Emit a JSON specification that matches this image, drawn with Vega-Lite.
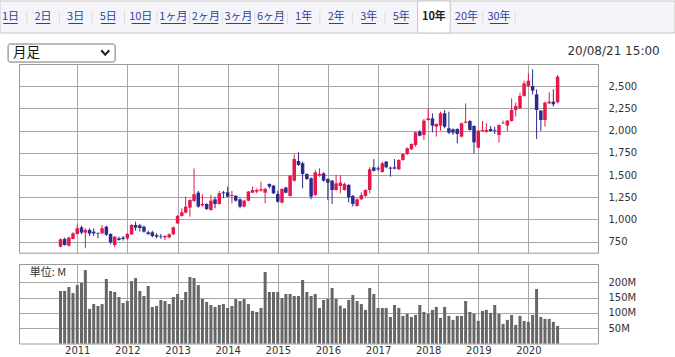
{
"$schema": "https://vega.github.io/schema/vega-lite/v6.json",
"width": 675, "height": 357,
"autosize": {"type": "none"},
"padding": 0,
"background": "#ffffff",
"config": {
  "view": {"stroke": null},
  "axis": {"title": null, "labelFont": "DejaVu Sans", "labelFontSize": 10, "labelColor": "#333333", "domainColor": "#9a9a9a", "gridColor": "#a6a6a6", "ticks": false, "labelFlush": false},
  "text": {"font": "Noto Sans CJK JP"}
},
"datasets": {
  "tabs": [
    {"tab": "1日", "row": "tabs"}, {"tab": "2日", "row": "tabs"}, {"tab": "3日", "row": "tabs"}, {"tab": "5日", "row": "tabs"},
    {"tab": "10日", "row": "tabs"}, {"tab": "1ヶ月", "row": "tabs"}, {"tab": "2ヶ月", "row": "tabs"}, {"tab": "3ヶ月", "row": "tabs"},
    {"tab": "6ヶ月", "row": "tabs"}, {"tab": "1年", "row": "tabs"}, {"tab": "2年", "row": "tabs"}, {"tab": "3年", "row": "tabs"},
    {"tab": "5年", "row": "tabs"}, {"tab": "10年", "row": "tabs"}, {"tab": "20年", "row": "tabs"}, {"tab": "30年", "row": "tabs"}
  ],
  "m": [
{"d":"2010-09-01","o":693,"h":787,"l":686,"c":776,"v":171.7},
{"d":"2010-10-01","o":780,"h":795,"l":705,"c":712,"v":171.7},
{"d":"2010-11-01","o":705,"h":806,"l":693,"c":795,"v":184.8},
{"d":"2010-12-01","o":780,"h":855,"l":776,"c":843,"v":165},
{"d":"2011-01-01","o":836,"h":937,"l":832,"c":900,"v":191},
{"d":"2011-02-01","o":911,"h":930,"l":832,"c":851,"v":197.8},
{"d":"2011-03-01","o":851,"h":900,"l":675,"c":881,"v":240},
{"d":"2011-04-01","o":881,"h":900,"l":813,"c":840,"v":113},
{"d":"2011-05-01","o":862,"h":900,"l":813,"c":843,"v":129},
{"d":"2011-06-01","o":847,"h":855,"l":787,"c":840,"v":122.8},
{"d":"2011-07-01","o":843,"h":937,"l":836,"c":900,"v":129},
{"d":"2011-08-01","o":918,"h":930,"l":813,"c":828,"v":211},
{"d":"2011-09-01","o":836,"h":843,"l":720,"c":742,"v":171.7},
{"d":"2011-10-01","o":712,"h":813,"l":686,"c":806,"v":168.5},
{"d":"2011-11-01","o":787,"h":806,"l":761,"c":768,"v":152},
{"d":"2011-12-01","o":795,"h":813,"l":761,"c":780,"v":132.6},
{"d":"2012-01-01","o":787,"h":847,"l":768,"c":836,"v":139},
{"d":"2012-02-01","o":832,"h":949,"l":825,"c":937,"v":204},
{"d":"2012-03-01","o":937,"h":975,"l":873,"c":907,"v":214},
{"d":"2012-04-01","o":933,"h":949,"l":862,"c":903,"v":171.7},
{"d":"2012-05-01","o":918,"h":930,"l":851,"c":862,"v":155.4},
{"d":"2012-06-01","o":855,"h":873,"l":825,"c":836,"v":188},
{"d":"2012-07-01","o":855,"h":873,"l":798,"c":813,"v":119.6},
{"d":"2012-08-01","o":825,"h":843,"l":787,"c":806,"v":122.8},
{"d":"2012-09-01","o":813,"h":836,"l":780,"c":806,"v":142.4},
{"d":"2012-10-01","o":798,"h":825,"l":768,"c":813,"v":139},
{"d":"2012-11-01","o":798,"h":843,"l":787,"c":832,"v":129},
{"d":"2012-12-01","o":832,"h":918,"l":825,"c":911,"v":152},
{"d":"2013-01-01","o":956,"h":1050,"l":949,"c":1039,"v":162},
{"d":"2013-02-01","o":1039,"h":1125,"l":1031,"c":1080,"v":142.4},
{"d":"2013-03-01","o":1076,"h":1256,"l":1069,"c":1144,"v":168.5},
{"d":"2013-04-01","o":1132,"h":1226,"l":1031,"c":1219,"v":217.4},
{"d":"2013-05-01","o":1208,"h":1575,"l":1200,"c":1283,"v":214},
{"d":"2013-06-01","o":1301,"h":1320,"l":1132,"c":1144,"v":191},
{"d":"2013-07-01","o":1159,"h":1283,"l":1144,"c":1174,"v":145.7},
{"d":"2013-08-01","o":1174,"h":1181,"l":1106,"c":1117,"v":135.9},
{"d":"2013-09-01","o":1106,"h":1275,"l":1099,"c":1211,"v":126},
{"d":"2013-10-01","o":1226,"h":1256,"l":1125,"c":1174,"v":119.6},
{"d":"2013-11-01","o":1174,"h":1320,"l":1166,"c":1294,"v":126},
{"d":"2013-12-01","o":1305,"h":1320,"l":1238,"c":1294,"v":129},
{"d":"2014-01-01","o":1305,"h":1369,"l":1249,"c":1256,"v":116.3},
{"d":"2014-02-01","o":1264,"h":1320,"l":1181,"c":1275,"v":122.8},
{"d":"2014-03-01","o":1264,"h":1275,"l":1200,"c":1211,"v":145.7},
{"d":"2014-04-01","o":1226,"h":1238,"l":1125,"c":1144,"v":139},
{"d":"2014-05-01","o":1144,"h":1219,"l":1136,"c":1211,"v":145.7},
{"d":"2014-06-01","o":1211,"h":1320,"l":1204,"c":1313,"v":129},
{"d":"2014-07-01","o":1301,"h":1369,"l":1294,"c":1331,"v":106.5},
{"d":"2014-08-01","o":1313,"h":1350,"l":1294,"c":1331,"v":103.3},
{"d":"2014-09-01","o":1324,"h":1425,"l":1313,"c":1339,"v":116.3},
{"d":"2014-10-01","o":1301,"h":1358,"l":1181,"c":1343,"v":233.7},
{"d":"2014-11-01","o":1399,"h":1406,"l":1350,"c":1369,"v":168.5},
{"d":"2014-12-01","o":1380,"h":1388,"l":1286,"c":1294,"v":168.5},
{"d":"2015-01-01","o":1286,"h":1324,"l":1189,"c":1200,"v":168.5},
{"d":"2015-02-01","o":1189,"h":1350,"l":1181,"c":1343,"v":148.8},
{"d":"2015-03-01","o":1358,"h":1369,"l":1294,"c":1301,"v":162},
{"d":"2015-04-01","o":1264,"h":1500,"l":1256,"c":1493,"v":162},
{"d":"2015-05-01","o":1436,"h":1733,"l":1425,"c":1680,"v":155.4},
{"d":"2015-06-01","o":1658,"h":1755,"l":1602,"c":1613,"v":155.4},
{"d":"2015-07-01","o":1632,"h":1650,"l":1350,"c":1511,"v":207.6},
{"d":"2015-08-01","o":1511,"h":1519,"l":1444,"c":1455,"v":168.5},
{"d":"2015-09-01","o":1463,"h":1474,"l":1226,"c":1256,"v":155.4},
{"d":"2015-10-01","o":1275,"h":1556,"l":1264,"c":1530,"v":162},
{"d":"2015-11-01","o":1493,"h":1575,"l":1481,"c":1511,"v":116.3},
{"d":"2015-12-01","o":1519,"h":1530,"l":1425,"c":1436,"v":142.4},
{"d":"2016-01-01","o":1455,"h":1463,"l":1219,"c":1414,"v":145.7},
{"d":"2016-02-01","o":1436,"h":1444,"l":1174,"c":1331,"v":181.5},
{"d":"2016-03-01","o":1331,"h":1500,"l":1324,"c":1406,"v":145.7},
{"d":"2016-04-01","o":1376,"h":1500,"l":1294,"c":1414,"v":123.9},
{"d":"2016-05-01","o":1331,"h":1414,"l":1324,"c":1399,"v":115.2},
{"d":"2016-06-01","o":1388,"h":1399,"l":1189,"c":1249,"v":142.4},
{"d":"2016-07-01","o":1264,"h":1275,"l":1144,"c":1174,"v":158.7},
{"d":"2016-08-01","o":1151,"h":1238,"l":1144,"c":1226,"v":139},
{"d":"2016-09-01","o":1226,"h":1305,"l":1219,"c":1275,"v":129},
{"d":"2016-10-01","o":1264,"h":1339,"l":1256,"c":1331,"v":109.8},
{"d":"2016-11-01","o":1331,"h":1587,"l":1294,"c":1564,"v":181.5},
{"d":"2016-12-01","o":1587,"h":1680,"l":1538,"c":1549,"v":162},
{"d":"2017-01-01","o":1575,"h":1594,"l":1545,"c":1564,"v":116.3},
{"d":"2017-02-01","o":1534,"h":1650,"l":1526,"c":1632,"v":116.3},
{"d":"2017-03-01","o":1650,"h":1658,"l":1575,"c":1587,"v":116.3},
{"d":"2017-04-01","o":1583,"h":1594,"l":1481,"c":1572,"v":87},
{"d":"2017-05-01","o":1587,"h":1680,"l":1564,"c":1572,"v":126},
{"d":"2017-06-01","o":1564,"h":1677,"l":1556,"c":1669,"v":116.3},
{"d":"2017-07-01","o":1669,"h":1744,"l":1662,"c":1737,"v":90.2},
{"d":"2017-08-01","o":1737,"h":1812,"l":1725,"c":1800,"v":96.7},
{"d":"2017-09-01","o":1789,"h":1857,"l":1782,"c":1849,"v":87},
{"d":"2017-10-01","o":1838,"h":1988,"l":1819,"c":1981,"v":93.5},
{"d":"2017-11-01","o":1988,"h":2007,"l":1936,"c":1943,"v":126},
{"d":"2017-12-01","o":1951,"h":2131,"l":1894,"c":2112,"v":103.3},
{"d":"2018-01-01","o":2119,"h":2251,"l":2112,"c":2138,"v":96.7},
{"d":"2018-02-01","o":2138,"h":2195,"l":1981,"c":2056,"v":109.8},
{"d":"2018-03-01","o":2044,"h":2082,"l":1932,"c":2074,"v":119.6},
{"d":"2018-04-01","o":2056,"h":2213,"l":1999,"c":2195,"v":83.7},
{"d":"2018-05-01","o":2195,"h":2232,"l":2026,"c":2044,"v":119.6},
{"d":"2018-06-01","o":2026,"h":2213,"l":1962,"c":1977,"v":90.2},
{"d":"2018-07-01","o":2014,"h":2026,"l":1951,"c":1977,"v":77.2},
{"d":"2018-08-01","o":2018,"h":2026,"l":1857,"c":1962,"v":90.2},
{"d":"2018-09-01","o":1932,"h":2089,"l":1924,"c":2082,"v":90.2},
{"d":"2018-10-01","o":2089,"h":2307,"l":2082,"c":2101,"v":139},
{"d":"2018-11-01","o":2108,"h":2119,"l":1999,"c":2007,"v":103.3},
{"d":"2018-12-01","o":2052,"h":2060,"l":1744,"c":1868,"v":96.7},
{"d":"2019-01-01","o":1808,"h":2007,"l":1800,"c":1999,"v":73.9},
{"d":"2019-02-01","o":1996,"h":2108,"l":1988,"c":2007,"v":106.5},
{"d":"2019-03-01","o":1988,"h":2082,"l":1977,"c":2007,"v":109.8},
{"d":"2019-04-01","o":2018,"h":2052,"l":1988,"c":1996,"v":100},
{"d":"2019-05-01","o":2007,"h":2044,"l":1962,"c":1999,"v":126},
{"d":"2019-06-01","o":1951,"h":2071,"l":1864,"c":2063,"v":96.7},
{"d":"2019-07-01","o":2082,"h":2112,"l":2074,"c":2089,"v":64.1},
{"d":"2019-08-01","o":2056,"h":2119,"l":1996,"c":2112,"v":77.2},
{"d":"2019-09-01","o":2108,"h":2363,"l":2101,"c":2232,"v":93.5},
{"d":"2019-10-01","o":2232,"h":2315,"l":2157,"c":2277,"v":60.9},
{"d":"2019-11-01","o":2251,"h":2427,"l":2243,"c":2390,"v":90.2},
{"d":"2019-12-01","o":2390,"h":2562,"l":2382,"c":2532,"v":73.9},
{"d":"2020-01-01","o":2502,"h":2645,"l":2495,"c":2562,"v":70.7},
{"d":"2020-02-01","o":2502,"h":2690,"l":2408,"c":2450,"v":93.5},
{"d":"2020-03-01","o":2408,"h":2465,"l":1906,"c":2232,"v":178.3},
{"d":"2020-04-01","o":2225,"h":2232,"l":1999,"c":2119,"v":87},
{"d":"2020-05-01","o":2119,"h":2326,"l":2044,"c":2315,"v":80.4},
{"d":"2020-06-01","o":2307,"h":2431,"l":2300,"c":2326,"v":80.4},
{"d":"2020-07-01","o":2326,"h":2465,"l":2270,"c":2296,"v":70.7},
{"d":"2020-08-01","o":2318,"h":2626,"l":2307,"c":2607,"v":57.6}
  ]
},
"layer": [
  {
    "data": {"name": "tabs"},
    "encoding": {
      "x": {"field": "tab", "type": "nominal", "axis": null, "scale": {"type": "band", "domain": ["1日","2日","3日","5日","10日","1ヶ月","2ヶ月","3ヶ月","6ヶ月","1年","2年","3年","5年","10年","20年","30年"], "range": [-5.8, 515.3], "paddingInner": 0, "paddingOuter": 0}},
      "y": {"field": "row", "type": "nominal", "axis": null, "scale": {"type": "band", "domain": ["tabs"], "range": [1, 33], "paddingInner": 0, "paddingOuter": 0}}
    },
    "layer": [
      {
        "transform": [{"filter": "datum.tab === '1日'"}],
        "mark": {"type": "rect", "fill": "#f5f5f9", "stroke": "#c6c6c6", "strokeWidth": 1},
        "encoding": {"x": null}
      },
      {
        "transform": [{"filter": "datum.tab === '10年'"}],
        "mark": {"type": "rect", "fill": "#ffffff", "stroke": "#c6c6c6", "strokeWidth": 1}
      },
      {
        "transform": [{"filter": "datum.tab !== '5年' && datum.tab !== '10年'"}],
        "mark": {"type": "tick", "orient": "vertical", "thickness": 1, "size": 13, "color": "#d4d4d4", "yOffset": 1},
        "encoding": {"x": {"field": "tab", "type": "nominal", "bandPosition": 1}}
      },
      {
        "transform": [{"filter": "datum.tab !== '10年'"}],
        "mark": {"type": "text", "fontSize": 11, "baseline": "middle", "color": "#2f3f9f"},
        "encoding": {"text": {"field": "tab"}}
      },
      {
        "transform": [{"filter": "length(datum.tab) == 2"}],
        "mark": {"type": "rect", "width": 14.5, "height": 1, "color": "#2f3f9f", "yOffset": 6.5}
      },
      {
        "transform": [{"filter": "length(datum.tab) == 3 && indexof(datum.tab, 'ヶ') < 0 && datum.tab !== '10年'"}],
        "mark": {"type": "rect", "width": 18.5, "height": 1, "color": "#2f3f9f", "yOffset": 6.5}
      },
      {
        "transform": [{"filter": "indexof(datum.tab, 'ヶ') >= 0"}],
        "mark": {"type": "rect", "width": 25, "height": 1, "color": "#2f3f9f", "yOffset": 6.5}
      },
      {
        "transform": [{"filter": "datum.tab === '10年'"}],
        "mark": {"type": "text", "fontSize": 11, "fontWeight": "bold", "baseline": "middle", "color": "#222222"},
        "encoding": {"text": {"field": "tab"}}
      }
    ]
  },
  {
    "data": {"name": "m"},
    "layer": [
      {
        "mark": {"type": "rule", "strokeWidth": 1},
        "encoding": {
          "x": {"field": "d", "type": "temporal",
                "scale": {"domain": [{"year": 2009, "month": 12, "date": 9}, {"year": 2021, "month": 4, "date": 16}], "range": [19, 598]},
                "axis": {"orient": "top", "offset": -64, "labels": false, "grid": true, "domain": true,
                         "values": [{"year":2011,"month":1,"date":1},{"year":2012,"month":1,"date":1},{"year":2013,"month":1,"date":1},{"year":2014,"month":1,"date":1},{"year":2015,"month":1,"date":1},{"year":2016,"month":1,"date":1},{"year":2017,"month":1,"date":1},{"year":2018,"month":1,"date":1},{"year":2019,"month":1,"date":1},{"year":2020,"month":1,"date":1}]}},
          "y": {"field": "l", "type": "quantitative",
                "scale": {"domain": [625, 2750], "range": [252.7, 64], "zero": false, "nice": false},
                "axis": {"orient": "left", "offset": -19, "labels": false, "grid": true, "domain": true, "values": [750, 1000, 1250, 1500, 1750, 2000, 2250, 2500]}},
          "y2": {"field": "h"},
          "color": {"condition": {"test": "datum.c >= datum.o", "value": "#e5174b"}, "value": "#2b2b8f"}
        }
      },
      {
        "mark": {"type": "bar", "size": 3.5},
        "encoding": {
          "x": {"field": "d", "type": "temporal",
                "axis": {"orient": "bottom", "offset": -104.3, "labels": false, "grid": false, "domain": true,
                         "values": [{"year":2011,"month":1,"date":1},{"year":2020,"month":1,"date":1}]}},
          "y": {"field": "o", "type": "quantitative",
                "axis": {"orient": "right", "offset": -77, "grid": false, "domain": true, "labelExpr": "format(datum.value, ',d')", "labelPadding": 10, "values": [750, 1000, 1250, 1500, 1750, 2000, 2250, 2500]}},
          "y2": {"field": "c"},
          "color": {"condition": {"test": "datum.c >= datum.o", "value": "#e5174b"}, "value": "#2b2b8f"}
        }
      },
      {
        "data": {"values": [{"label": "月足"}]},
        "layer": [
          {
            "mark": {"type": "rect", "fill": "#ffffff", "stroke": "#767676", "strokeWidth": 1, "cornerRadius": 2},
            "encoding": {
              "x": {"datum": {"year": 2009, "month": 8, "date": 15}, "type": "temporal", "axis": null},
              "x2": {"datum": {"year": 2011, "month": 10, "date": 4}},
              "y": {"datum": 2975, "type": "quantitative", "axis": null},
              "y2": {"datum": 2772}
            }
          },
          {
            "mark": {"type": "text", "align": "left", "baseline": "middle", "fontSize": 13.5, "color": "#111111"},
            "encoding": {
              "x": {"datum": {"year": 2009, "month": 9, "date": 20}, "type": "temporal", "axis": null},
              "y": {"datum": 2874, "type": "quantitative", "axis": null},
              "text": {"field": "label"}
            }
          },
          {
            "mark": {"type": "point", "shape": "M-1,-0.55L0,0.55L1,-0.55", "filled": false, "stroke": "#222222", "strokeWidth": 2, "size": 64, "opacity": 1},
            "encoding": {
              "x": {"datum": {"year": 2011, "month": 7, "date": 24}, "type": "temporal", "axis": null},
              "y": {"datum": 2880, "type": "quantitative", "axis": null}
            }
          }
        ]
      },
      {
        "data": {"values": [{"label": "20/08/21 15:00"}]},
        "mark": {"type": "text", "align": "right", "baseline": "middle", "font": "DejaVu Sans", "fontSize": 12, "color": "#333333"},
        "encoding": {
          "x": {"datum": {"year": 2022, "month": 8, "date": 15}, "type": "temporal", "axis": null},
          "y": {"datum": 2900, "type": "quantitative", "axis": null},
          "text": {"field": "label"}
        }
      }
    ],
    "resolve": {"axis": {"x": "independent", "y": "independent"}}
  },
  {
    "data": {"name": "m"},
    "layer": [
      {
        "mark": {"type": "bar", "size": 3, "color": "#666666"},
        "encoding": {
          "x": {"field": "d", "type": "temporal",
                "scale": {"domain": [{"year": 2009, "month": 12, "date": 9}, {"year": 2021, "month": 4, "date": 16}], "range": [19, 598]},
                "axis": {"orient": "top", "offset": -264, "labels": false, "grid": true, "domain": true,
                         "values": [{"year":2011,"month":1,"date":1},{"year":2012,"month":1,"date":1},{"year":2013,"month":1,"date":1},{"year":2014,"month":1,"date":1},{"year":2015,"month":1,"date":1},{"year":2016,"month":1,"date":1},{"year":2017,"month":1,"date":1},{"year":2018,"month":1,"date":1},{"year":2019,"month":1,"date":1},{"year":2020,"month":1,"date":1}]}},
          "y": {"field": "v", "type": "quantitative",
                "scale": {"domain": [0, 260], "range": [343.5, 264], "nice": false},
                "axis": {"orient": "left", "offset": -19, "labels": false, "grid": true, "domain": true, "values": [50, 100, 150, 200]}}
        }
      },
      {
        "data": {"values": [{"label": "単位: M"}]},
        "mark": {"type": "text", "align": "left", "baseline": "middle", "fontSize": 11, "color": "#333333"},
        "encoding": {
          "x": {"datum": {"year": 2010, "month": 1, "date": 20}, "type": "temporal",
                "axis": {"orient": "bottom", "offset": -13.5, "grid": false, "domain": true, "format": "%Y", "labelPadding": 2,
                         "values": [{"year":2011,"month":1,"date":1},{"year":2012,"month":1,"date":1},{"year":2013,"month":1,"date":1},{"year":2014,"month":1,"date":1},{"year":2015,"month":1,"date":1},{"year":2016,"month":1,"date":1},{"year":2017,"month":1,"date":1},{"year":2018,"month":1,"date":1},{"year":2019,"month":1,"date":1},{"year":2020,"month":1,"date":1}]}},
          "y": {"datum": 230, "type": "quantitative",
                "axis": {"orient": "right", "offset": -77, "grid": false, "domain": true, "labelPadding": 10, "labelExpr": "datum.value + 'M'", "values": [50, 100, 150, 200]}},
          "text": {"field": "label"}
        }
      }
    ],
    "resolve": {"axis": {"x": "independent", "y": "independent"}}
  }
],
"resolve": {"scale": {"x": "independent", "y": "independent"}}
}
